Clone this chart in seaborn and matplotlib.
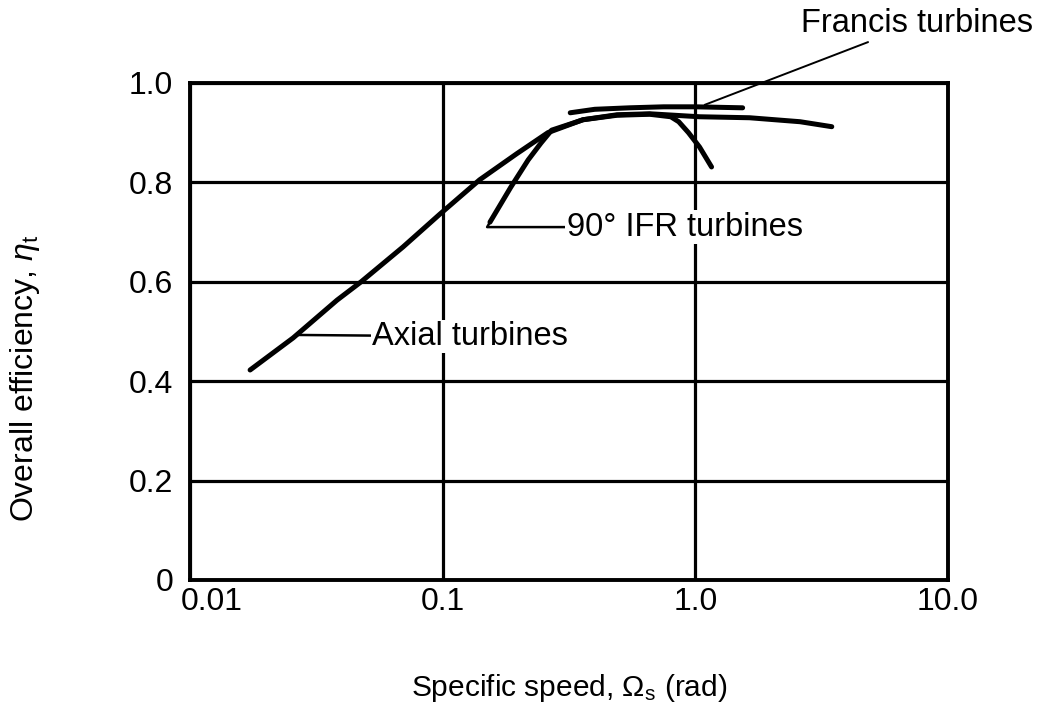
import matplotlib
matplotlib.use("Agg")
import matplotlib.pyplot as plt
import matplotlib.transforms as mtransforms
from matplotlib.ticker import FixedLocator, NullLocator, FixedFormatter
import numpy as np
import pandas as pd
import seaborn as sns

# ---- data ----
axial_speed = [0.0173, 0.0256, 0.0382, 0.0476, 0.0697, 0.0975, 0.14, 0.197,
               0.261, 0.359, 0.49, 0.66, 1.04, 1.64, 2.6, 3.47]
axial_eff = [0.4225, 0.487, 0.563, 0.600, 0.670, 0.736, 0.805, 0.858,
             0.90, 0.926, 0.936, 0.938, 0.932, 0.93, 0.922, 0.912]

ifr_speed = [0.154, 0.186, 0.218, 0.245, 0.27, 0.36, 0.49, 0.66, 0.80,
             0.86, 0.94, 1.04, 1.16]
ifr_eff = [0.72, 0.79, 0.845, 0.879, 0.905, 0.926, 0.935, 0.937, 0.932,
           0.922, 0.90, 0.871, 0.831]

francis_speed = [0.32, 0.40, 0.55, 0.75, 1.0, 1.54]
francis_eff = [0.94, 0.947, 0.950, 0.952, 0.952, 0.95]

x_ticks = [0.01, 0.1, 1.0, 10.0]
x_ticklabels = ["0.01", "0.1", "1.0", "10.0"]
y_ticks = [0, 0.2, 0.4, 0.6, 0.8, 1.0]
y_ticklabels = ["0", "0.2", "0.4", "0.6", "0.8", "1.0"]

# ---- style ----
sns.set_theme(style="white")
plt.rcParams["font.family"] = ["Liberation Sans", "DejaVu Sans"]
plt.rcParams["text.color"] = "black"
plt.rcParams["mathtext.fontset"] = "custom"
plt.rcParams["mathtext.rm"] = "Liberation Sans"
plt.rcParams["mathtext.it"] = "Liberation Sans:italic"
plt.rcParams["mathtext.bf"] = "Liberation Sans:bold"

df = pd.concat([
    pd.DataFrame({"speed": axial_speed, "eff": axial_eff, "type": "Axial"}),
    pd.DataFrame({"speed": ifr_speed, "eff": ifr_eff, "type": "IFR"}),
    pd.DataFrame({"speed": francis_speed, "eff": francis_eff, "type": "Francis"}),
], ignore_index=True)

fig = plt.figure(figsize=(10.53, 7.17), dpi=100)
ax = fig.add_axes([0.1804, 0.1911, 0.7198, 0.6932])

for name, sub in df.groupby("type", sort=False):
    sns.lineplot(data=sub, x="speed", y="eff", ax=ax, sort=False,
                 color="black", lw=3.6, estimator=None, legend=False, zorder=3)

ax.set_xscale("log")
ax.set_xlim(0.01, 10.0)
ax.set_ylim(0, 1.0)
ax.xaxis.set_major_locator(FixedLocator(x_ticks))
ax.xaxis.set_major_formatter(FixedFormatter(x_ticklabels))
ax.xaxis.set_minor_locator(NullLocator())
ax.yaxis.set_major_locator(FixedLocator(y_ticks))
ax.yaxis.set_major_formatter(FixedFormatter(y_ticklabels))
ax.yaxis.set_minor_locator(NullLocator())

ax.grid(True, which="major", color="black", lw=2.3)
for s in ax.spines.values():
    s.set_color("black")
    s.set_linewidth(2.8)
ax.tick_params(axis="both", length=0, labelsize=23, colors="black")
ax.tick_params(axis="y", pad=12)
ax.tick_params(axis="x", pad=5)

# shift the first x label to the right like the reference
lbls = ax.get_xticklabels()
offset = mtransforms.ScaledTranslation(22 / 100, 0, fig.dpi_scale_trans)
lbls[0].set_transform(lbls[0].get_transform() + offset)

ax.set_xlabel(r"Specific speed, $\Omega_{\rm s}$ (rad)", fontsize=21.5, color="black")
ax.set_ylabel(r"Overall efficiency, $\eta_{\rm t}$", fontsize=23, color="black")
ax.xaxis.set_label_coords(0.5, -0.185)
ax.yaxis.set_label_coords(-0.195, 0.405)

box = dict(facecolor="white", edgecolor="none", pad=1)
fs_ann = 23.5
ax.annotate("Axial turbines", xy=(0.0265, 0.493), xytext=(0.0525, 0.49),
            fontsize=fs_ann, ha="left", va="center", bbox=box, zorder=4,
            color="black",
            arrowprops=dict(arrowstyle="-", lw=1.8, color="black",
                            shrinkA=0, shrinkB=0))
ax.annotate("90° IFR turbines", xy=(0.154, 0.72), xytext=(0.31, 0.71),
            fontsize=fs_ann, ha="left", va="center", bbox=box, zorder=4,
            color="black",
            arrowprops=dict(arrowstyle="-", lw=1.8, color="black",
                            shrinkA=0, shrinkB=0,
                            connectionstyle="angle,angleA=0,angleB=60,rad=0"))
ax.annotate("Francis turbines", xy=(1.09, 0.956), xytext=(2.62, 1.12),
            fontsize=fs_ann, ha="left", va="center", annotation_clip=False,
            color="black",
            arrowprops=dict(arrowstyle="-", lw=1.4, color="black",
                            shrinkA=0, shrinkB=0))

fig.savefig("out.png", dpi=100, facecolor="white")
